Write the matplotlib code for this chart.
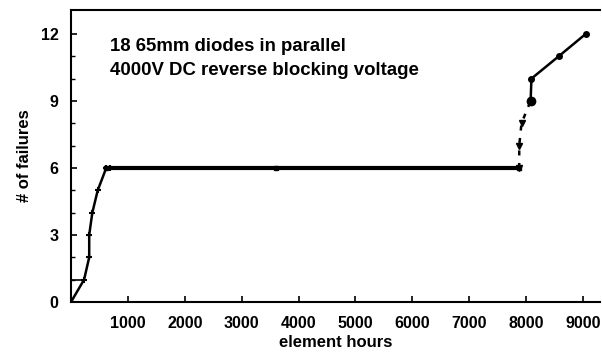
import numpy as np
import matplotlib
matplotlib.use("Agg")
from matplotlib import pyplot as plt

plt.rcParams.update(
    {
        "font.family": ["Liberation Sans", "DejaVu Sans"],
        "font.weight": "bold",
        "axes.labelweight": "bold",
        "font.size": 12,
    }
)

# early failures (solid, small markers)
early_hours = [0, 230, 320, 320, 375, 470, 620, 680]
early_fail = [0, 1, 2, 3, 4, 5, 6, 6]

# long plateau at 6 failures
plateau_hours = [620, 3600, 7880]
plateau_fail = [6, 6, 6]

# burst of failures near 8000 h (dashed, triangles)
burst_hours = [7880, 7880, 7920, 8080]
burst_fail = [6, 7, 8, 9]

# late failures (solid, circles)
late_hours = [8080, 8095, 8575, 9050]
late_fail = [9, 10, 11, 12]

fig = plt.figure(figsize=(6.02, 3.56), dpi=100)
ax = fig.add_axes([71 / 602, 54 / 356, 529 / 602, 292 / 356])

ax.plot([0, 230], [1, 1], color="black", lw=1.2)
ax.plot(early_hours, early_fail, color="black", lw=1.8, marker="+", ms=4, mew=1.5)
ax.plot(plateau_hours, plateau_fail, color="black", lw=3.0, marker="s", ms=3)
ax.plot(burst_hours, burst_fail, color="black", lw=1.8, ls=(0, (2, 3)),
        marker="v", ms=5)
ax.plot(late_hours, late_fail, color="black", lw=1.8, marker="o", ms=4)
ax.plot([8080], [9], color="black", marker="o", ms=6)

ax.set_xlim(0, 9300)
ax.set_ylim(0, 13.07)
ax.set_xticks(np.arange(1000, 9001, 1000))
ax.set_yticks([0, 3, 6, 9, 12])
ax.set_yticks(np.arange(0, 13), minor=True)
ax.tick_params(axis="both", direction="in", length=4, width=1.2, labelsize=11.5)
ax.tick_params(axis="y", which="minor", direction="in", length=3, width=1)
ax.tick_params(axis="x", pad=10)
ax.tick_params(axis="y", pad=9)

ax.spines["right"].set_visible(False)
for s in ("left", "top", "bottom"):
    ax.spines[s].set_linewidth(1.5)

ax.set_xlabel("element hours", fontsize=12, labelpad=3)
ax.set_ylabel("# of failures", fontsize=12, labelpad=6)

ax.text(680, 11.45, "18 65mm diodes in parallel", fontsize=13.4, va="center")
ax.text(680, 10.35, "4000V DC reverse blocking voltage", fontsize=13.4, va="center")

fig.savefig("out.png", dpi=100)
